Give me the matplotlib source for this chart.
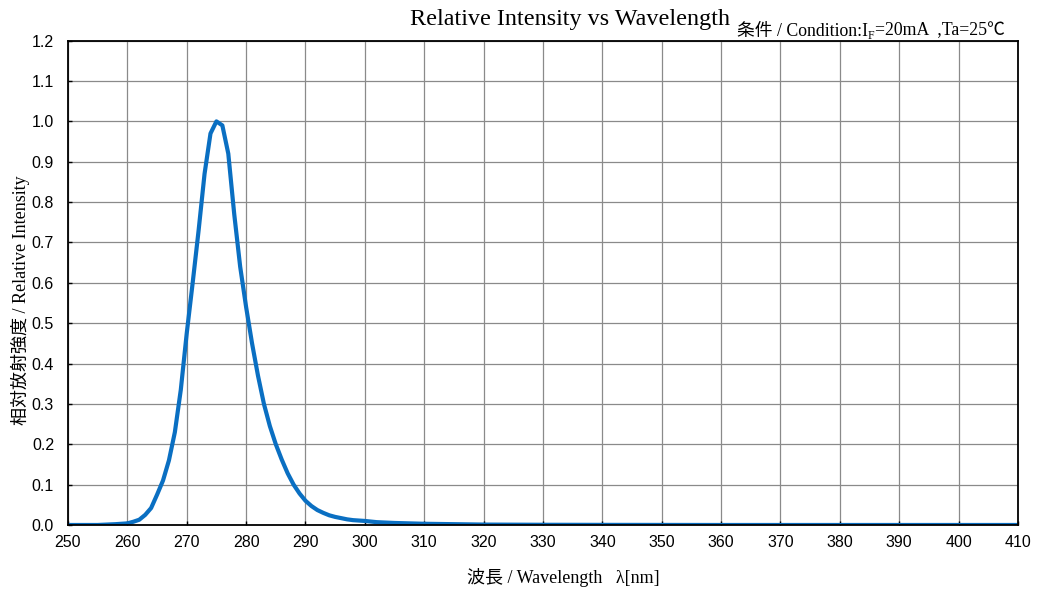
import matplotlib
matplotlib.use("Agg")
import matplotlib.pyplot as plt
from matplotlib.transforms import offset_copy

# ---------- DATA ----------
wavelength = [250, 255, 258, 260, 261, 262, 263, 264, 265, 266, 267, 268, 269,
              270, 271, 272, 273, 274, 275, 276, 277, 278, 279, 280, 281, 282,
              283, 284, 285, 286, 287, 288, 289, 290, 291, 292, 293, 294, 295,
              296, 297, 298, 299, 300, 302, 305, 310, 315, 320, 330, 340, 360,
              380, 410]
intensity = [0.0, 0.0, 0.002, 0.004, 0.008, 0.013, 0.025, 0.042, 0.075, 0.11,
             0.16, 0.23, 0.335, 0.475, 0.60, 0.73, 0.87, 0.97, 1.0, 0.99,
             0.92, 0.77, 0.64, 0.54, 0.45, 0.37, 0.30, 0.245, 0.20, 0.162,
             0.128, 0.10, 0.078, 0.06, 0.047, 0.037, 0.030, 0.024, 0.020,
             0.017, 0.014, 0.012, 0.011, 0.010, 0.007, 0.005, 0.003, 0.002,
             0.001, 0.0005, 0.0003, 0.0, 0.0, 0.0]

x_ticks = list(range(250, 411, 10))
y_ticks = [round(v * 0.1, 1) for v in range(0, 13)]

title = "Relative Intensity vs Wavelength"
cond_parts = ["条件 / Condition:I", "F", "=20mA  ,Ta=25℃"]
x_label = "波長 / Wavelength   λ[nm]"
y_label = "相対放射強度 / Relative Intensity"

# ---------- STYLE ----------
serif_cjk = ["Liberation Serif", "Noto Sans CJK JP"]

fig = plt.figure(figsize=(10.38, 5.92), dpi=100)
ax = fig.add_axes([0.0655, 0.1132, 0.9152, 0.8181])

ax.plot(wavelength, intensity, color="#0a6fc2", lw=3.0, solid_joinstyle="round")

ax.set_xlim(250, 410)
ax.set_ylim(0, 1.2)
ax.set_xticks(x_ticks)
ax.set_yticks(y_ticks)
ax.set_xticklabels([str(t) for t in x_ticks], fontfamily="Liberation Sans", fontsize=11.5)
ax.set_yticklabels([f"{t:.1f}" for t in y_ticks], fontfamily="Liberation Sans", fontsize=11.5)
ax.tick_params(axis="x", direction="in", length=3, width=1, pad=7, color="black")
ax.tick_params(axis="y", direction="in", length=3, width=1, pad=10, color="black")
ax.grid(True, color="#8a8a8a", lw=0.9)
ax.set_axisbelow(True)
for sp in ax.spines.values():
    sp.set_color("black")
    sp.set_linewidth(1.3)

ax.set_xlabel(x_label, family=serif_cjk, fontsize=13)
ax.xaxis.set_label_coords(0.521, -0.088)
ax.set_ylabel(y_label, family=serif_cjk, fontsize=13)
ax.yaxis.set_label_coords(-0.040, 0.464)

fig.text(0.549, 0.957, title, family=serif_cjk, fontsize=17.4, ha="center", va="baseline")

# condition text, built in pieces so the subscript F can sit lower
fig.canvas.draw()
renderer = fig.canvas.get_renderer()
t = fig.text(0.710, 0.940, cond_parts[0], family=serif_cjk, fontsize=12.8, ha="left", va="baseline")
w = t.get_window_extent(renderer).width
t2 = fig.text(0.710, 0.940, cond_parts[1], family=serif_cjk, fontsize=8.5,
              ha="left", va="baseline",
              transform=offset_copy(fig.transFigure, fig=fig, x=w, y=-3, units="dots"))
w2 = t2.get_window_extent(renderer).width
fig.text(0.710, 0.940, cond_parts[2], family=serif_cjk, fontsize=12.8, ha="left", va="baseline",
         transform=offset_copy(fig.transFigure, fig=fig, x=w + w2, y=0, units="dots"))

fig.savefig("out.png", dpi=100)
